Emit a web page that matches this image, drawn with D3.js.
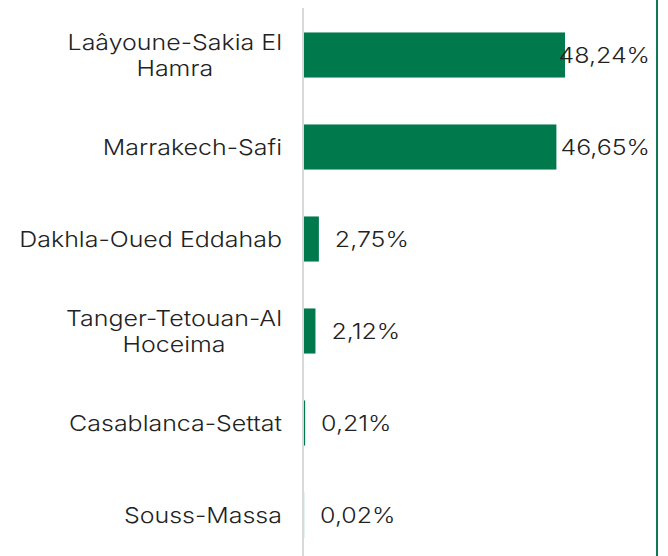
<!DOCTYPE html>
<html><head><meta charset="utf-8">
<script src="https://cdn.jsdelivr.net/npm/d3@7"></script>
<style>
html,body{margin:0;padding:0;background:#fff;}
svg{display:block;}
text{font-family:Inter,"Open Sans",sans-serif;font-weight:300;}
</style></head>
<body>
<script>
const categories = ["Laâyoune-Sakia El Hamra","Marrakech-Safi","Dakhla-Oued Eddahab","Tanger-Tetouan-Al Hoceima","Casablanca-Settat","Souss-Massa"];
const labelLines = [["Laâyoune-Sakia El","Hamra"],["Marrakech-Safi"],["Dakhla-Oued Eddahab"],["Tanger-Tetouan-Al","Hoceima"],["Casablanca-Settat"],["Souss-Massa"]];
const values = [48.24,46.65,2.75,2.12,0.21,0.02];
const valueLabels = ["48,24%","46,65%","2,75%","2,12%","0,21%","0,02%"];

const W=668,H=556, FS=22, STRETCH=1.135;
const svg=d3.select("body").append("svg").attr("width",W).attr("height",H);
const x0=304;
const x=d3.scaleLinear().domain([0,48.24]).range([x0,565]);
const y=d3.scaleBand().domain(categories).range([9,561]).paddingInner(0.51).paddingOuter(0.255);

function stretch(sel){
  sel.each(function(){const w=this.getComputedTextLength();d3.select(this).attr("textLength",w*STRETCH).attr("lengthAdjust","spacingAndGlyphs");});
}

// right border
svg.append("line").attr("x1",657).attr("x2",657).attr("y1",0).attr("y2",H)
  .attr("stroke","#0f7a52").attr("stroke-width",2);

// bars
svg.selectAll("rect.bar").data(values).join("rect").attr("class","bar")
  .attr("x",x(0)).attr("y",(d,i)=>y(categories[i]))
  .attr("width",d=>x(d)-x(0)).attr("height",y.bandwidth())
  .attr("fill","#007A4D");

// axis line
svg.append("line").attr("x1",x0-1).attr("x2",x0-1).attr("y1",8).attr("y2",H)
  .attr("stroke","#d9d9d9").attr("stroke-width",2);

// value labels
svg.selectAll("text.val").data(values).join("text").attr("class","val")
  .attr("y",(d,i)=>y(categories[i])+y.bandwidth()/2)
  .attr("dy","0.36em").attr("font-size",FS).attr("fill","#222")
  .text((d,i)=>valueLabels[i])
  .each(function(d){
    const w=this.getComputedTextLength()*STRETCH;
    d3.select(this).attr("textLength",w).attr("lengthAdjust","spacingAndGlyphs")
      .attr("x",Math.min(x(d)+16,650-w));
  });

// category labels
svg.selectAll("g.cat").data(categories).join("g").attr("class","cat")
  .attr("transform",(d)=>`translate(0,${y(d)+y.bandwidth()/2})`)
  .each(function(d,i){
    const g=d3.select(this);
    const lines=labelLines[i];
    const n=lines.length;
    const ts=lines.map((l,j)=>g.append("text").attr("font-size",FS).attr("fill","#222")
      .attr("y",(j-(n-1)/2)*26).attr("dy","0.36em").text(l));
    const widths=ts.map(t=>t.node().getComputedTextLength()*STRETCH);
    const maxW=d3.max(widths);
    const cx=282-maxW/2;
    ts.forEach((t,j)=>t.attr("textLength",widths[j]).attr("lengthAdjust","spacingAndGlyphs").attr("x",cx-widths[j]/2));
  });
</script>
</body></html>
